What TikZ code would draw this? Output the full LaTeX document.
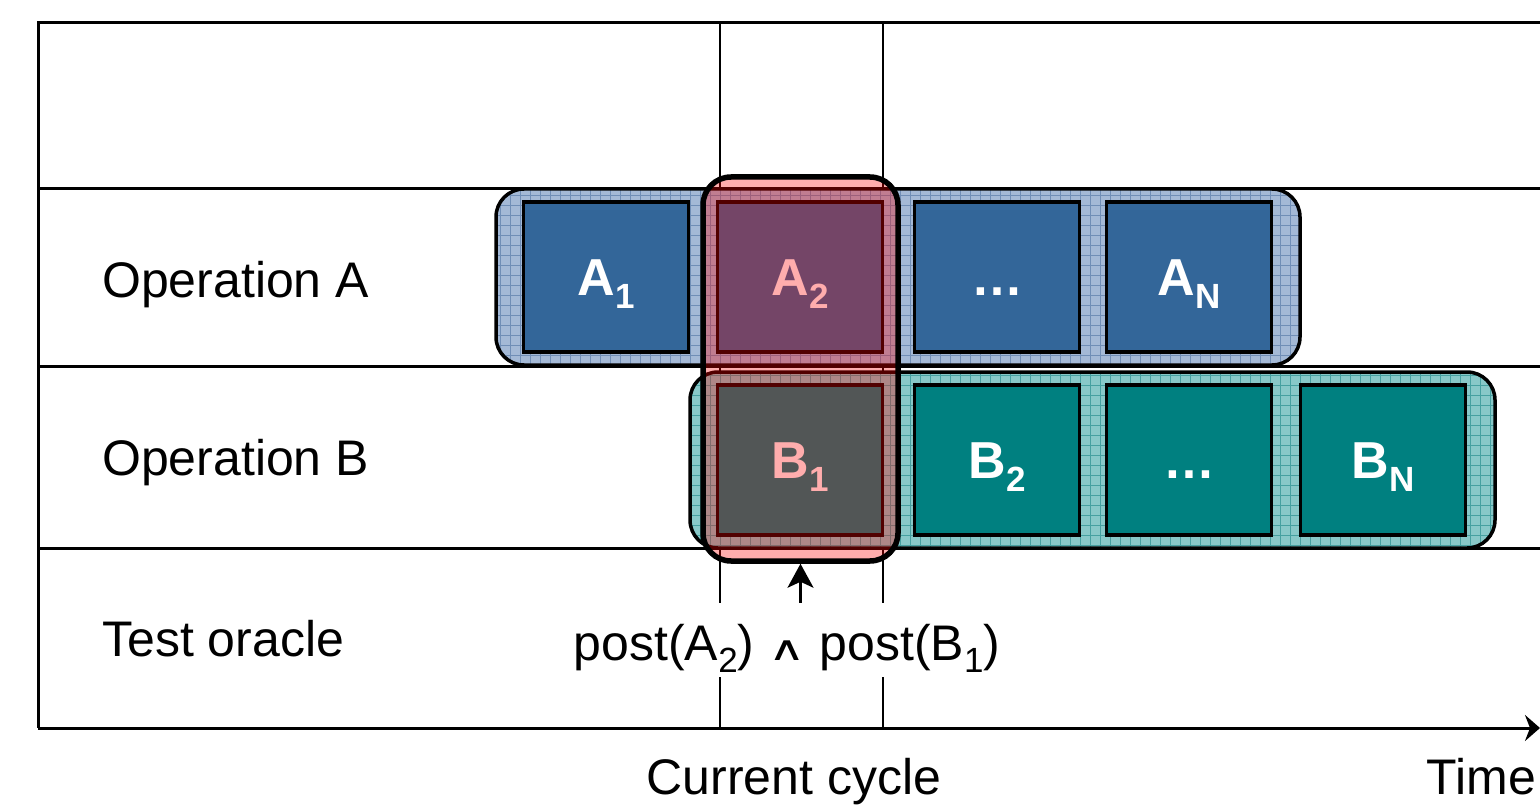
\documentclass[tikz,border=0pt]{standalone}
\usepackage{fontspec}
\setmainfont{Liberation Sans}
\newfontfamily\symf{DejaVu Sans}
\usetikzlibrary{arrows.meta,patterns.meta}
\definecolor{blueSq}{RGB}{51,102,153}
\definecolor{tealSq}{RGB}{0,128,128}
\definecolor{blueGrp}{RGB}{164,185,214}
\definecolor{blueGrid}{RGB}{112,142,182}
\definecolor{tealGrp}{RGB}{136,200,200}
\definecolor{tealGrid}{RGB}{70,160,160}
\newcommand\bsub[1]{\raisebox{-13pt}{\fontsize{35}{35}\selectfont #1}}
\newcommand\psub[1]{\raisebox{-12pt}{\fontsize{35}{35}\selectfont #1}}
\begin{document}
\begin{tikzpicture}[x=1pt,y=-1pt,
  frame/.style={line width=3pt},
  vline/.style={line width=2.5pt},
  grp/.style={draw=black, line width=3.5pt, rounded corners=28pt, rectangle, inner sep=0pt},
  bluegrp/.style={grp, preaction={fill=blueGrp},
    preaction={pattern={Lines[distance=10pt,angle=0,line width=.8pt]}, pattern color=blueGrid},
    preaction={pattern={Lines[distance=10pt,angle=90,line width=.8pt]}, pattern color=blueGrid}},
  tealgrp/.style={grp, preaction={fill=tealGrp},
    preaction={pattern={Lines[distance=10pt,angle=0,line width=.8pt]}, pattern color=tealGrid},
    preaction={pattern={Lines[distance=10pt,angle=90,line width=.8pt]}, pattern color=tealGrid}},
  sq/.style={draw=black, line width=3.5pt, minimum width=165pt, minimum height=150pt,
    text=white, font=\fontsize{52}{52}\bfseries\selectfont,
    text height=37pt, text depth=0pt, inner sep=0pt},
  bsq/.style={sq, fill=blueSq},
  tsq/.style={sq, fill=tealSq},
  lbl/.style={font=\fontsize{50}{60}\selectfont, inner sep=0pt},
  tip/.style={-{Stealth[length=15pt,width=26pt,inset=5pt]}}]
\useasboundingbox (0,0) rectangle (1540,805);

% frame
\draw[frame] (1540,23) -- (38,23) -- (38,728);
\draw[frame] (38,189) -- (1540,189);
\draw[frame] (38,366) -- (1540,366);
\draw[frame] (38,548) -- (1540,548);
\draw[vline] (720,23) -- (720,728);
\draw[vline] (883,23) -- (883,728);
\draw[frame,tip] (38,728) -- (1540,728);

% groups
\node[bluegrp, minimum width=804pt, minimum height=176pt] (grpA) at (898,277) {};
\node[tealgrp, minimum width=805pt, minimum height=176pt] (grpB) at (1092.5,460) {};

% squares A
\node[bsq] (a1) at (606,277) {A\bsub{1}};
\node[bsq] (a2) at (800,277) {A\bsub{2}};
\node[bsq] (a3) at (997,277) {\dots};
\node[bsq] (an) at (1189,277) {A\bsub{N}};
% squares B
\node[tsq] (b1) at (800,460) {B\bsub{1}};
\node[tsq] (b2) at (997,460) {B\bsub{2}};
\node[tsq] (b3) at (1189,460) {\dots};
\node[tsq] (bn) at (1383,460) {B\bsub{N}};

% current cycle highlight
\node[draw=black, line width=5.5pt, rounded corners=28pt, fill=red, fill opacity=0.32,
  draw opacity=1, minimum width=195pt, minimum height=384pt, inner sep=0pt] (cur) at (800.5,369) {};

% labels
\node[lbl, anchor=base west] (opA) at (102,298) {Operation A};
\node[lbl, anchor=base west] (opB) at (102,475) {Operation B};
\node[lbl, anchor=base west] (orc) at (102,656) {Test oracle};
\node[lbl, fill=white, anchor=base, text height=44.5pt, text depth=4.5pt,
  inner xsep=4pt, inner ysep=12.5pt] (post) at (787,660)
  {post(A\psub{2}) {\symf\fontsize{34}{34}\selectfont\scalebox{1.5}[1]{∧}} post(B\psub{1})};
\node[lbl, anchor=base] (cc) at (794,794) {Current cycle};
\node[lbl, anchor=base east] (time) at (1536,794) {Time};

\draw[line width=2.5pt, -{Stealth[length=24pt,width=26pt,inset=6pt]}] (cur.south |- post.north) -- (cur.south);
\end{tikzpicture}
\end{document}
